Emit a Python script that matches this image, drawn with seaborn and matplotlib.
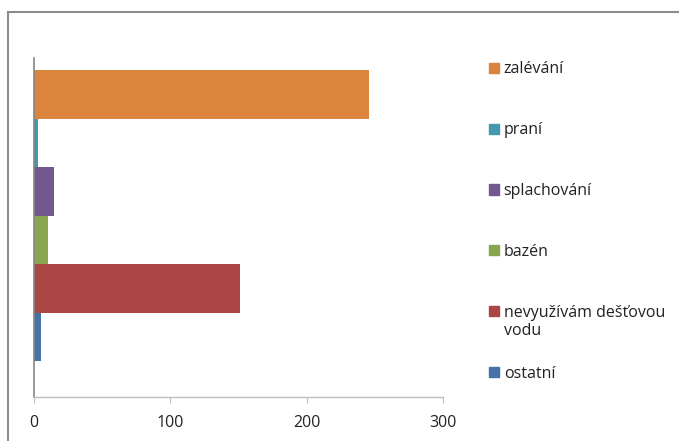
import matplotlib
matplotlib.use("Agg")
import matplotlib.pyplot as plt
import matplotlib.patches as mpatches
import seaborn as sns
import pandas as pd

# data
categories = ['zalévání', 'praní', 'splachování', 'bazén',
              'nevyužívám dešťovou vodu', 'ostatní']
values = [246, 3, 15, 10, 151, 5]
colors = ['#DB843D', '#4198AF', '#71588F', '#89A54E', '#AA4643', '#4572A7']
x_ticks = [0, 100, 200, 300]
# legend wraps the long label after "dešťovou"
legend_first_lines = ['zalévání', 'praní', 'splachování', 'bazén',
                      'nevyužívám dešťovou', 'ostatní']
legend_second_lines = ['', '', '', '', 'vodu', '']

sns.set_theme(style='white')
plt.rcParams['font.family'] = ['Open Sans', 'DejaVu Sans']

W, H = 679, 441
fig = plt.figure(figsize=(W / 100, H / 100), dpi=100)
ax = fig.add_axes([34 / W, (H - 397) / H, (443 - 34) / W, (397 - 58) / H])

df = pd.DataFrame({'use': categories, 'count': values})
sns.barplot(data=df, x='count', y='use', hue='use', palette=colors,
            width=1.0, orient='h', legend=False, saturation=1,
            linewidth=0, ax=ax)

ax.set_xlim(0, 300)
ax.set_ylim(6.24, -0.75)
ax.set_xticks(x_ticks)
ax.set_yticks([])
ax.set_xlabel('')
ax.set_ylabel('')

for side in ['top', 'right']:
    ax.spines[side].set_visible(False)
ax.spines['bottom'].set_color('#BFBFBF')
ax.spines['bottom'].set_linewidth(1.0)
ax.spines['left'].set_color('#868686')
ax.spines['left'].set_linewidth(1.2)
ax.tick_params(axis='x', bottom=True, length=4, width=0.8, color='#BFBFBF',
               pad=9, labelsize=11.5, labelcolor='#222222')

# legend on the right
handles = [mpatches.Patch(color=c, label=l)
           for c, l in zip(colors, legend_first_lines)]
leg = fig.legend(handles=handles, loc='upper left',
                 bbox_to_anchor=(475 / W, 1 - 47 / H), frameon=False,
                 fontsize=11.5, handlelength=0.6, handleheight=0.6,
                 handletextpad=0.3, labelspacing=2.81)
for t in leg.get_texts():
    t.set_color('#222222')

# continuation lines go just under their legend text
fig.canvas.draw()
for t, extra in zip(leg.get_texts(), legend_second_lines):
    if not extra:
        continue
    bb = t.get_window_extent()
    x0, y0 = fig.transFigure.inverted().transform((bb.x0, bb.y0))
    fig.text(x0, y0 - 2 / H, extra, fontsize=11.5, color='#222222',
             ha='left', va='top')

# outer chart frame
frame = mpatches.Rectangle((8 / W, -0.1), 1.2, 1.1 - 12 / H,
                           transform=fig.transFigure, fill=False,
                           edgecolor='#8C8C8C', linewidth=1.5, clip_on=False)
fig.patches.append(frame)

fig.savefig('out.png', dpi=100)
